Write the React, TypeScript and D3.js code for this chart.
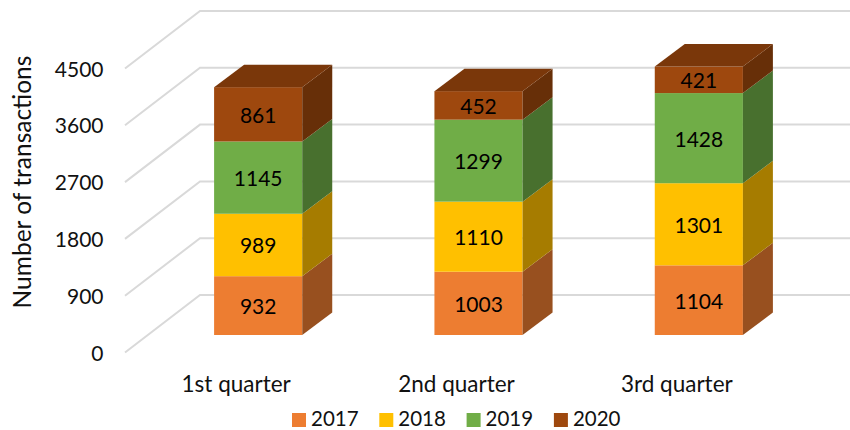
import React from "react";
import { scaleBand, scaleLinear, stack } from "d3";

const quarters = ["1st quarter", "2nd quarter", "3rd quarter"];
const years = ["2017", "2018", "2019", "2020"];
const v2017 = [932, 1003, 1104];
const v2018 = [989, 1110, 1301];
const v2019 = [1145, 1299, 1428];
const v2020 = [861, 452, 421];
const yTicks = [0, 900, 1800, 2700, 3600, 4500];

const frontColors = ["#ED7D31", "#FFC000", "#70AD47", "#9E480E"];
const sideColors = ["#98501F", "#A67C00", "#48702E", "#672F08"];
const topColor = "#7A370A";
const gridColor = "#D9D9D9";
const font = "Lato, Carlito, sans-serif";

const WIDTH = 850;
const HEIGHT = 430;
// 3d box offsets
const depthX = 30;
const depthY = -22.5;

const rows = quarters.map((q, i) => ({
  quarter: q,
  "2017": v2017[i],
  "2018": v2018[i],
  "2019": v2019[i],
  "2020": v2020[i],
}));

const x = scaleBand<string>()
  .domain(quarters)
  .range([148, 809])
  .paddingInner(0.6)
  .paddingOuter(0.3);
const y = scaleLinear().domain([0, 4500]).range([335, 51]);
const series = stack<any>().keys(years)(rows);

export default function App() {
  const bw = x.bandwidth();
  return (
    <svg
      width={WIDTH}
      height={HEIGHT}
      style={{ position: "absolute", left: 0, top: 0, background: "#fff" }}
      fontFamily={font}
    >
      {yTicks.map((t) => (
        <g key={t}>
          <polyline
            points={`125,${y(t) + 17.5} 200,${y(t) - 40} ${WIDTH},${y(t) - 40}`}
            fill="none"
            stroke={gridColor}
            strokeWidth={2}
          />
          <text x={103.5} y={y(t) + 17} textAnchor="end" dominantBaseline="central" fontSize={21} fill="#111">
            {t}
          </text>
        </g>
      ))}
      <text
        transform="translate(21,182) rotate(-90)"
        textAnchor="middle"
        dominantBaseline="central"
        fontSize={24.5}
        fill="#111"
      >
        Number of transactions
      </text>

      {quarters.map((q, qi) => {
        const x0 = x(q)!;
        const x1 = x0 + bw;
        const top = y(series[series.length - 1][qi][1]);
        return (
          <g key={q}>
            {series.map((s, si) => {
              const yb = y(s[qi][0]);
              const yt = y(s[qi][1]);
              return (
                <g key={s.key}>
                  <rect x={x0} y={yt} width={bw} height={yb - yt} fill={frontColors[si]} />
                  <polygon
                    points={`${x1},${yb} ${x1 + depthX},${yb + depthY} ${x1 + depthX},${yt + depthY} ${x1},${yt}`}
                    fill={sideColors[si]}
                  />
                  <text
                    x={x0 + bw / 2}
                    y={(yb + yt) / 2}
                    textAnchor="middle"
                    dominantBaseline="central"
                    fontSize={21}
                    fill="#000"
                  >
                    {s[qi][1] - s[qi][0]}
                  </text>
                </g>
              );
            })}
            <polygon
              points={`${x0},${top} ${x0 + depthX},${top + depthY} ${x1 + depthX},${top + depthY} ${x1},${top}`}
              fill={topColor}
            />
            <text x={x0 + bw / 2 - 22} y={383} textAnchor="middle" dominantBaseline="central" fontSize={22.5} fill="#111">
              {q}
            </text>
          </g>
        );
      })}

      {years.map((yr, i) => {
        const lx = 292 + i * 87.3;
        return (
          <g key={yr}>
            <rect x={lx} y={413} width={14} height={14} fill={frontColors[i]} />
            <text x={lx + 19} y={418} dominantBaseline="central" fontSize={20.5} fill="#111">
              {yr}
            </text>
          </g>
        );
      })}
    </svg>
  );
}
